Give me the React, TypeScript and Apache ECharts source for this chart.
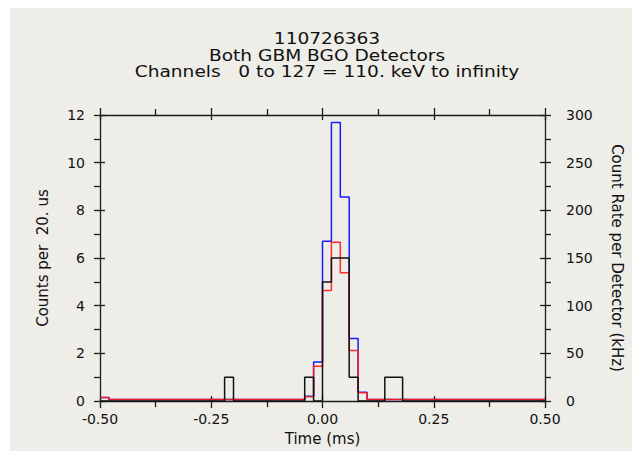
import React, { useEffect, useRef } from "react";
import * as echarts from "echarts";

// ---- Data ----
const titleLines = [
  "110726363",
  "Both GBM BGO Detectors",
  "Channels   0 to 127 = 110. keV to infinity",
];
const xName = "Time (ms)";
const leftName = "Counts per  20. us";
const rightName = "Count Rate per Detector (kHz)";

const binStart = -0.5; // ms
const binWidth = 0.02; // ms (20 us)

// counts per 20 us bin, 50 bins from -0.50 to 0.50 ms
const blueCounts = [
  0.15, 0.07, 0.07, 0.07, 0.07, 0.07, 0.07, 0.07, 0.07, 0.07,
  0.07, 0.07, 0.07, 0.07, 0.07, 0.07, 0.07, 0.07, 0.07, 0.07,
  0.07, 0.07, 0.07, 0.2, 1.64, 6.7, 11.69, 8.56, 2.63, 0.37,
  0.07, 0.07, 0.07, 0.07, 0.07, 0.07, 0.07, 0.07, 0.07, 0.07,
  0.07, 0.07, 0.07, 0.07, 0.07, 0.07, 0.07, 0.07, 0.07, 0.07,
];
const redCounts = [
  0.15, 0.07, 0.07, 0.07, 0.07, 0.07, 0.07, 0.07, 0.07, 0.07,
  0.07, 0.07, 0.07, 0.07, 0.07, 0.07, 0.07, 0.07, 0.07, 0.07,
  0.07, 0.07, 0.07, 0.18, 1.46, 4.64, 6.66, 5.38, 2.12, 0.35,
  0.07, 0.07, 0.07, 0.07, 0.07, 0.07, 0.07, 0.07, 0.07, 0.07,
  0.07, 0.07, 0.07, 0.07, 0.07, 0.07, 0.07, 0.07, 0.07, 0.07,
];
const blackCounts = [
  0, 0, 0, 0, 0, 0, 0, 0, 0, 0,
  0, 0, 0, 0, 1, 0, 0, 0, 0, 0,
  0, 0, 0, 1, 0, 5, 6, 6, 1, 0,
  0, 0, 1, 1, 0, 0, 0, 0, 0, 0,
  0, 0, 0, 0, 0, 0, 0, 0, 0, 0,
];

const xMin = -0.5, xMax = 0.5, xInterval = 0.25;
const yMin = 0, yMax = 12, yInterval = 2;
const rMin = 0, rMax = 300, rInterval = 50;

const FONT = "DejaVu Sans";
const INK = "#111111";
const AXIS = { color: "#1c1c1c", width: 1.3 };

function stepData(vals: number[]) {
  const pts: [number, number][] = vals.map((v, i) => [
    +(binStart + i * binWidth).toFixed(4),
    v,
  ]);
  pts.push([+(binStart + vals.length * binWidth).toFixed(4), vals[vals.length - 1]]);
  return pts;
}

export default function App() {
  const ref = useRef<HTMLDivElement>(null);
  useEffect(() => {
    if (!ref.current) return;
    const chart = echarts.init(ref.current, undefined, { renderer: "svg" });

    const outerX = (pos: "top" | "bottom", main: boolean) => ({
      type: "value",
      position: pos,
      min: xMin,
      max: xMax,
      interval: xInterval,
      axisLine: { show: true, onZero: false, lineStyle: AXIS },
      axisTick: { show: true, inside: false, length: 7, lineStyle: AXIS },
      minorTick: { show: true, splitNumber: 2, length: 6, lineStyle: AXIS },
      splitLine: { show: false },
      minorSplitLine: { show: false },
      axisLabel: main
        ? {
            show: true,
            margin: 11,
            formatter: (v: number) => v.toFixed(2),
            fontFamily: FONT,
            fontSize: 14,
            color: INK,
          }
        : { show: false },
      ...(main
        ? {
            name: xName,
            nameLocation: "middle",
            nameGap: 27,
            nameTextStyle: { fontFamily: FONT, fontSize: 15, color: INK },
          }
        : {}),
    });
    const innerX = (pos: "top" | "bottom") => ({
      type: "value",
      position: pos,
      min: xMin,
      max: xMax,
      interval: xInterval,
      axisLine: { show: false, onZero: false },
      axisTick: { show: true, inside: true, length: 5, lineStyle: AXIS },
      minorTick: { show: false },
      splitLine: { show: false },
      axisLabel: { show: false },
    });
    const outerY = (
      pos: "left" | "right",
      min: number,
      max: number,
      interval: number,
      name: string,
      nameGap: number,
      nameRotate: number,
      margin: number
    ) => ({
      type: "value",
      position: pos,
      min,
      max,
      interval,
      axisLine: { show: true, onZero: false, lineStyle: AXIS },
      axisTick: { show: true, inside: false, length: 6, lineStyle: AXIS },
      minorTick: { show: true, splitNumber: 2, length: 6, lineStyle: AXIS },
      splitLine: { show: false },
      minorSplitLine: { show: false },
      axisLabel: {
        show: true,
        margin,
        fontFamily: FONT,
        fontSize: 14,
        color: INK,
      },
      name,
      nameLocation: "middle",
      nameGap,
      nameRotate,
      nameTextStyle: { fontFamily: FONT, fontSize: 15, color: INK },
    });
    const innerY = (pos: "left" | "right", min: number, max: number, interval: number) => ({
      type: "value",
      position: pos,
      min,
      max,
      interval,
      axisLine: { show: false, onZero: false },
      axisTick: { show: true, inside: true, length: 5, lineStyle: AXIS },
      minorTick: { show: false },
      splitLine: { show: false },
      axisLabel: { show: false },
    });

    const line = (name: string, vals: number[], color: string, opacity = 1) => ({
      name,
      type: "line",
      xAxisIndex: 0,
      yAxisIndex: 0,
      step: "end",
      showSymbol: false,
      symbol: "none",
      data: stepData(vals),
      lineStyle: { color, width: 1.5, opacity },
      itemStyle: { color },
      emphasis: { disabled: true },
    });

    chart.setOption({
      animation: false,
      backgroundColor: "#eeede8",
      grid: { left: 100, right: 77, top: 115, bottom: 48, containLabel: false },
      graphic: [
        { type: "rect", shape: { x: 0, y: 0, width: 10, height: 451 }, style: { fill: "#ffffff" }, silent: true },
        { type: "rect", shape: { x: 0, y: 0, width: 632, height: 8 }, style: { fill: "#ffffff" }, silent: true },
        ...titleLines.map((t, i) => ({
          type: "text",
          x: 327,
          y: 39 + i * 16.5,
          scaleX: 1.24,
          silent: true,
          style: {
            text: t,
            fontFamily: FONT,
            fontSize: 15,
            fill: INK,
            align: "center",
            verticalAlign: "middle",
          },
        })),
      ],
      xAxis: [outerX("bottom", true), outerX("top", false), innerX("bottom"), innerX("top")],
      yAxis: [
        outerY("left", yMin, yMax, yInterval, leftName, 50, 90, 15),
        outerY("right", rMin, rMax, rInterval, rightName, 64, -90, 21),
        innerY("left", yMin, yMax, yInterval),
        innerY("right", rMin, rMax, rInterval),
      ],
      series: [
        line("BGO blue", blueCounts, "#1a1aff"),
        line("BGO red", redCounts, "#ff1a1a", 0.92),
        line("Both", blackCounts, "#111111"),
      ],
    });
    return () => chart.dispose();
  }, []);
  return (
    <div
      ref={ref}
      style={{ position: "absolute", left: 0, top: 0, width: 632, height: 451 }}
    />
  );
}
